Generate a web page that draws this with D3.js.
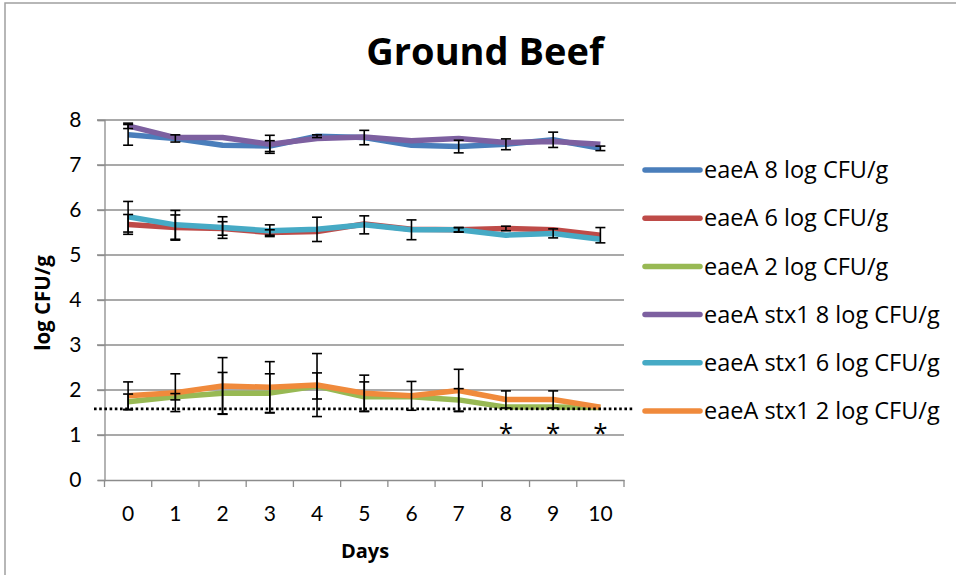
<!DOCTYPE html>
<html>
<head>
<meta charset="utf-8">
<script src="https://cdn.jsdelivr.net/npm/d3@7"></script>
<style>
  body { margin: 0; background: #fff; }
  svg text { font-family: Lato, "Open Sans", sans-serif; fill: #000; }
</style>
</head>
<body>
<div id="chart"></div>
<script>
const days = [0, 1, 2, 3, 4, 5, 6, 7, 8, 9, 10];
const yTicks = [0, 1, 2, 3, 4, 5, 6, 7, 8];
const seriesNames = [
  "eaeA 8 log CFU/g",
  "eaeA 6 log CFU/g",
  "eaeA 2 log CFU/g",
  "eaeA stx1 8 log CFU/g",
  "eaeA stx1 6 log CFU/g",
  "eaeA stx1 2 log CFU/g"
];
const seriesColors = ["#4a7ebb", "#be4b48", "#98b954", "#7d60a0", "#46aac5", "#f08a3c"];

// mean log CFU/g per day
const eaeA8 = [7.67, 7.59, 7.44, 7.42, 7.64, 7.61, 7.44, 7.41, 7.46, 7.56, 7.37];
const eaeA6 = [5.68, 5.61, 5.59, 5.50, 5.52, 5.69, 5.57, 5.56, 5.59, 5.56, 5.44];
const eaeA2 = [1.74, 1.85, 1.93, 1.93, 2.09, 1.85, 1.85, 1.78, 1.62, 1.62, 1.61];
const stx8 = [7.87, 7.61, 7.61, 7.46, 7.59, 7.62, 7.54, 7.59, 7.50, 7.52, 7.46];
const stx6 = [5.85, 5.67, 5.61, 5.54, 5.57, 5.67, 5.56, 5.56, 5.44, 5.48, 5.35];
const stx2 = [1.87, 1.94, 2.09, 2.06, 2.11, 1.93, 1.87, 1.99, 1.79, 1.79, 1.62];

// +/- error per day
const eaeA8Err = [0.23, 0.08, 0, 0.12, 0.03, 0.16, 0, 0.14, 0.12, 0.17, 0.05];
const eaeA6Err = [0.22, 0.28, 0.15, 0.06, 0, 0, 0, 0.05, 0.05, 0, 0.17];
const eaeA2Err = [0.17, 0.07, 0.46, 0.43, 0.29, 0.33, 0, 0.25, 0, 0, 0];
const stx8Err = [0.06, 0, 0, 0.2, 0, 0, 0, 0, 0, 0, 0];
const stx6Err = [0.34, 0.32, 0.24, 0.13, 0.27, 0.2, 0.22, 0.05, 0, 0.1, 0];
const stx2Err = [0.31, 0.42, 0.63, 0.57, 0.70, 0.40, 0.32, 0.47, 0.19, 0.19, 0];

const detectionLimit = 1.58;
const starDays = [8, 9, 10];

const seriesValues = [eaeA8, eaeA6, eaeA2, stx8, stx6, stx2];
const seriesErrors = [eaeA8Err, eaeA6Err, eaeA2Err, stx8Err, stx6Err, stx2Err];

const W = 956, H = 575;
const svg = d3.select("#chart").append("svg").attr("width", W).attr("height", H);

// chart frame
svg.append("rect")
  .attr("x", 5).attr("y", 3).attr("width", W + 10).attr("height", H + 10)
  .attr("fill", "none").attr("stroke", "#a0a0a0").attr("stroke-width", 1.5);

const x = d3.scaleBand().domain(days).range([104.5, 624]);
const y = d3.scaleLinear().domain([0, 8]).range([480, 120]);

// gridlines
svg.append("g")
  .selectAll("line")
  .data(yTicks.filter(d => d > 0))
  .join("line")
  .attr("x1", 97).attr("x2", 624)
  .attr("y1", d => y(d)).attr("y2", d => y(d))
  .attr("stroke", "#8c8c8c").attr("stroke-width", 1.3);

// y axis
const yAxis = svg.append("g")
  .attr("transform", "translate(104.5,0)")
  .call(d3.axisLeft(y).tickValues(yTicks).tickSize(7).tickPadding(16));
yAxis.select(".domain").attr("stroke", "#8c8c8c").attr("stroke-width", 1.3);
yAxis.selectAll(".tick line").attr("stroke", "#8c8c8c").attr("stroke-width", 1.3);
yAxis.selectAll(".tick text").attr("font-size", 21).style("font-family", "Lato, sans-serif");

// x axis
const xAxis = svg.append("g")
  .attr("transform", "translate(0,480)")
  .call(d3.axisBottom(x).tickSize(0).tickPadding(26));
xAxis.select(".domain").attr("stroke", "#8c8c8c").attr("stroke-width", 1.3);
xAxis.selectAll(".tick text").attr("font-size", 21).style("font-family", "Lato, sans-serif");
xAxis.append("g")
  .selectAll("line")
  .data(days.concat([null]))
  .join("line")
  .attr("x1", (d, i) => 104.5 + i * x.bandwidth())
  .attr("x2", (d, i) => 104.5 + i * x.bandwidth())
  .attr("y1", 0).attr("y2", 7)
  .attr("stroke", "#8c8c8c").attr("stroke-width", 1.3);

const cx = d => x(d) + x.bandwidth() / 2;

// lines
const line = d3.line().x((v, i) => cx(days[i])).y(v => y(v));
svg.append("g")
  .selectAll("path")
  .data(seriesValues)
  .join("path")
  .attr("d", line)
  .attr("fill", "none")
  .attr("stroke", (d, i) => seriesColors[i])
  .attr("stroke-width", 5.5)
  .attr("stroke-linejoin", "round");

// error bars
const errG = svg.append("g").attr("stroke", "#000").attr("stroke-width", 1.6);
seriesValues.forEach((vals, s) => {
  vals.forEach((v, i) => {
    const e = seriesErrors[s][i];
    if (!e) return;
    const px = cx(days[i]);
    errG.append("line").attr("x1", px).attr("x2", px).attr("y1", y(v + e)).attr("y2", y(v - e));
    [v + e, v - e].forEach(c => {
      errG.append("line").attr("x1", px - 5).attr("x2", px + 5).attr("y1", y(c)).attr("y2", y(c));
    });
  });
});

// detection limit
svg.append("line")
  .attr("x1", 94).attr("x2", 633)
  .attr("y1", y(detectionLimit)).attr("y2", y(detectionLimit))
  .attr("stroke", "#000").attr("stroke-width", 2.6)
  .attr("stroke-dasharray", "2.6,2.6");

// significance markers
svg.append("g")
  .selectAll("text")
  .data(starDays)
  .join("text")
  .attr("x", d => cx(d))
  .attr("y", y(1.13) + 13)
  .attr("text-anchor", "middle")
  .attr("font-size", 26)
  .style("font-family", "'Open Sans', sans-serif")
  .text("*");

// title
svg.append("text")
  .attr("x", 485).attr("y", 65)
  .attr("text-anchor", "middle")
  .attr("font-size", 38).attr("font-weight", "bold")
  .style("font-family", "'Open Sans', sans-serif")
  .text("Ground Beef");

// axis titles
svg.append("text")
  .attr("x", 365).attr("y", 558)
  .attr("text-anchor", "middle")
  .attr("font-size", 20).attr("font-weight", "bold")
  .style("font-family", "'Open Sans', sans-serif")
  .text("Days");

svg.append("text")
  .attr("transform", "translate(50,303) rotate(-90)")
  .attr("text-anchor", "middle")
  .attr("font-size", 20.5).attr("font-weight", "bold")
  .style("font-family", "'Open Sans', sans-serif")
  .text("log CFU/g");

// legend
const legend = svg.append("g")
  .selectAll("g")
  .data(seriesNames)
  .join("g")
  .attr("transform", (d, i) => `translate(645,${170 + i * 48.2})`);
legend.append("line")
  .attr("x1", 0).attr("x2", 55)
  .attr("stroke", (d, i) => seriesColors[i])
  .attr("stroke-width", 5.5)
  .attr("stroke-linecap", "round");
legend.append("text")
  .attr("x", 59).attr("dy", "0.35em")
  .attr("font-size", 23.5)
  .style("font-family", "'Open Sans', sans-serif")
  .text(d => d);
</script>
</body>
</html>
